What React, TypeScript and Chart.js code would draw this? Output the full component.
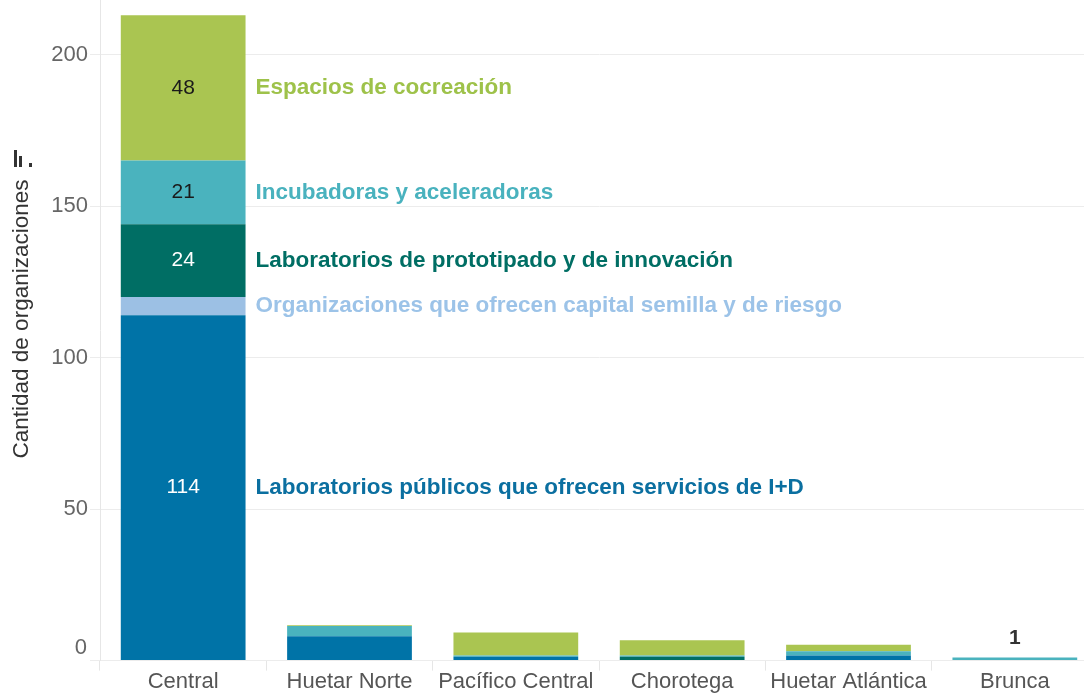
import React, { useEffect, useRef } from 'react';
import { Chart, registerables } from 'chart.js';

Chart.register(...registerables);

const categories = ['Central', 'Huetar Norte', 'Pacífico Central', 'Chorotega', 'Huetar Atlántica', 'Brunca'];

const labPublicos = [114, 8, 1.3, 0, 1.7, 0];
const capitalSemilla = [6, 0, 0, 0, 0, 0];
const labPrototipado = [24, 0, 0, 1.3, 0, 0];
const incubadoras = [21, 3.4, 0.4, 0.4, 1.4, 1];
const espacios = [48, 0.3, 7.6, 5, 2.1, 0];

const seriesNames = [
  'Laboratorios públicos que ofrecen servicios de I+D',
  'Organizaciones que ofrecen capital semilla y de riesgo',
  'Laboratorios de prototipado y de innovación',
  'Incubadoras y aceleradoras',
  'Espacios de cocreación',
];
const seriesValues = [labPublicos, capitalSemilla, labPrototipado, incubadoras, espacios];
const seriesColors = ['#0073A7', '#9CC0E4', '#006E64', '#4AB3BE', '#AAC551'];
const seriesTextColors = ['#0B6FA0', '#9CC3E8', '#006E64', '#49B2BE', '#9EC24A'];
const valueTextColors = ['#ffffff', '#222222', '#ffffff', '#1a1a1a', '#1a1a1a'];

const yTickValues = [0, 50, 100, 150, 200];
const yTitle = 'Cantidad de organizaciones';

const FONT = '"Liberation Sans", Arial, sans-serif';

const labelPlugin = {
  id: 'customLabels',
  afterDatasetsDraw(chart: any) {
    const ctx = chart.ctx;
    ctx.save();
    ctx.textBaseline = 'middle';
    chart.data.datasets.forEach((ds: any, di: number) => {
      const meta = chart.getDatasetMeta(di);
      const bar: any = meta.data[0];
      const v = ds.data[0];
      const yMid = (bar.y + bar.base) / 2;
      if (v >= 10) {
        ctx.font = `21px ${FONT}`;
        ctx.fillStyle = valueTextColors[di];
        ctx.textAlign = 'center';
        ctx.fillText(String(v), bar.x, yMid);
      }
      ctx.font = `bold 22.5px ${FONT}`;
      ctx.fillStyle = seriesTextColors[di];
      ctx.textAlign = 'left';
      ctx.fillText(ds.label, bar.x + bar.width / 2 + 10, yMid);
    });
    // total above the last category
    const last = chart.data.datasets.length - 1;
    const idx = categories.length - 1;
    const top: any = chart.getDatasetMeta(last).data[idx];
    let total = 0;
    chart.data.datasets.forEach((ds: any) => (total += ds.data[idx]));
    ctx.font = `bold 21px ${FONT}`;
    ctx.fillStyle = '#333333';
    ctx.textAlign = 'center';
    ctx.fillText(String(Math.round(total)), top.x, top.y - 19);

    // zero tick label (raised as in the reference)
    const yScale = chart.scales.y;
    ctx.font = `22px ${FONT}`;
    ctx.fillStyle = '#666666';
    ctx.textAlign = 'right';
    ctx.fillText('0', yScale.right - 13, yScale.getPixelForValue(0) - 13);

    // axis title
    ctx.save();
    ctx.translate(22, 319);
    ctx.rotate(-Math.PI / 2);
    ctx.font = `22.5px ${FONT}`;
    ctx.fillStyle = '#333333';
    ctx.textAlign = 'center';
    ctx.fillText(yTitle, 0, 0);
    ctx.restore();

    // small icon
    ctx.fillStyle = '#333333';
    ctx.fillRect(14, 150, 3, 17);
    ctx.fillRect(19, 156, 3, 11);
    ctx.fillRect(29, 163, 3, 4);
    ctx.restore();
  },
};

export default function App() {
  const canvasRef = useRef<HTMLCanvasElement>(null);

  useEffect(() => {
    if (!canvasRef.current) return;
    const chart = new Chart(canvasRef.current, {
      type: 'bar',
      data: {
        labels: categories,
        datasets: seriesNames.map((name, i) => ({
          label: name,
          data: seriesValues[i],
          backgroundColor: seriesColors[i],
          borderWidth: 0,
          categoryPercentage: 1,
          barPercentage: 0.75,
        })),
      },
      options: {
        responsive: false,
        animation: false,
        layout: { padding: { top: 0, right: 2, bottom: 0, left: 0 } },
        plugins: {
          legend: { display: false },
          tooltip: { enabled: false },
        },
        scales: {
          x: {
            stacked: true,
            offset: true,
            grid: {
              offset: true,
              drawOnChartArea: false,
              tickLength: 10,
              color: '#e6e6e6',
            },
            border: { display: false },
            ticks: {
              font: { family: FONT, size: 22 },
              color: '#555555',
              padding: -2,
              maxRotation: 0,
              autoSkip: false,
            },
          },
          y: {
            stacked: true,
            min: 0,
            max: 218,
            afterFit: (scale: any) => {
              scale.width = 100;
              scale.paddingTop = 0;
              scale.paddingBottom = 0;
            },
            afterBuildTicks: (scale: any) => {
              scale.ticks = yTickValues.map((v) => ({ value: v }));
            },
            grid: {
              color: '#ececec',
              tickLength: 10,
            },
            border: { display: true, color: '#e6e6e6' },
            ticks: {
              font: { family: FONT, size: 22 },
              color: '#666666',
              padding: 2,
              callback: (v: any) => (v === 0 ? '' : String(v)),
            },
            title: { display: false },
          },
        },
      },
      plugins: [labelPlugin],
    });
    return () => chart.destroy();
  }, []);

  return (
    <div
      style={{
        position: 'fixed',
        left: 0,
        top: 0,
        width: 1084,
        height: 693,
        overflow: 'hidden',
        background: '#ffffff',
      }}
    >
      <canvas ref={canvasRef} width={1100} height={693} style={{ display: 'block' }} />
    </div>
  );
}
